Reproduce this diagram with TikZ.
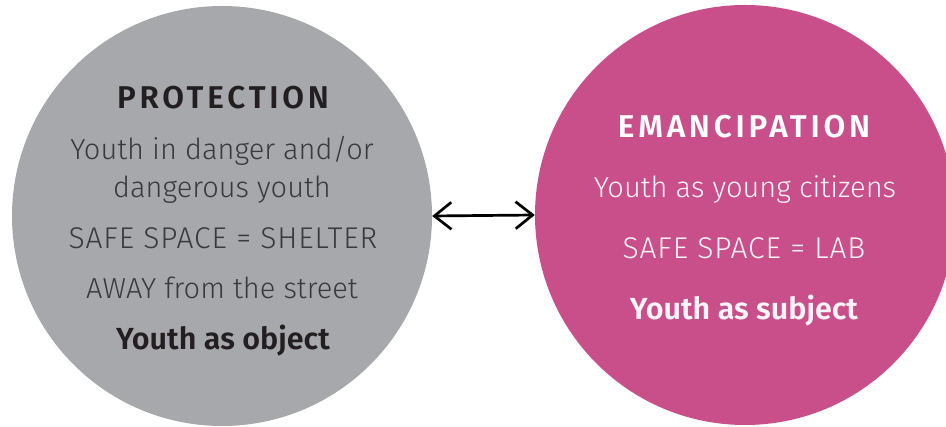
\documentclass[tikz,border=0pt]{standalone}
\usepackage{fontspec}
\setmainfont{Fira Sans Light}[BoldFont={Fira Sans SemiBold}]
\usetikzlibrary{arrows.meta}
\definecolor{cgray}{HTML}{A7A8AB}
\definecolor{cpink}{HTML}{C94F8A}
\definecolor{ltext}{HTML}{3A3A3C}
\definecolor{dtext}{HTML}{231F20}
\definecolor{ptext}{HTML}{FFF4F8}
\tikzset{
  disc/.style={circle, minimum size=420pt, inner sep=0pt},
  txt/.style={anchor=base, inner sep=0pt, font=\fontsize{29}{34}\selectfont},
  caps/.style={anchor=base, inner sep=0pt, font=\fontsize{30}{34}\selectfont\addfontfeatures{LetterSpace=3}},
  head/.style={anchor=base, inner sep=0pt, font=\fontsize{31.5}{36}\selectfont\bfseries\addfontfeatures{LetterSpace=12}},
  bold/.style={anchor=base, inner sep=0pt, font=\fontsize{30.5}{35}\selectfont\bfseries},
  mybarb/.tip={Straight Barb[length=17pt,width=27pt,line width=2.7pt]},
  link/.style={line width=2.7pt, mybarb-mybarb}
}
\begin{document}
\begin{tikzpicture}[x=1pt,y=1pt]
\useasboundingbox (0,0) rectangle (946,427);
\node[disc, fill=cgray] (prot) at (222,211) {};
\node[disc, fill=cpink] (eman) at (745,212) {};
% left texts
\node[head, text=dtext] (p1) at (223,318) {PROTECTION};
\node[txt, text=ltext] (p2) at (222,267) {Youth in danger and/or};
\node[txt, text=ltext] (p3) at (222,229) {dangerous youth};
\node[caps, text=ltext] (p4) at (223,178) {SAFE SPACE = SHELTER};
\node[txt, text=ltext] (p5) at (222,128) {AWAY from the street};
\node[bold, text=dtext] (p6) at (223,77) {Youth as object};
% right texts
\node[head, text=white] (e1) at (744,289) {EMANCIPATION};
\node[txt, text=ptext] (e2) at (745,229) {Youth as young citizens};
\node[caps, text=ptext] (e3) at (744,168) {SAFE SPACE = LAB};
\node[bold, text=ptext] (e4) at (744,107) {Youth as subject};
% connector
\draw[link] (prot.east) -- (eman.west);
\end{tikzpicture}
\end{document}
